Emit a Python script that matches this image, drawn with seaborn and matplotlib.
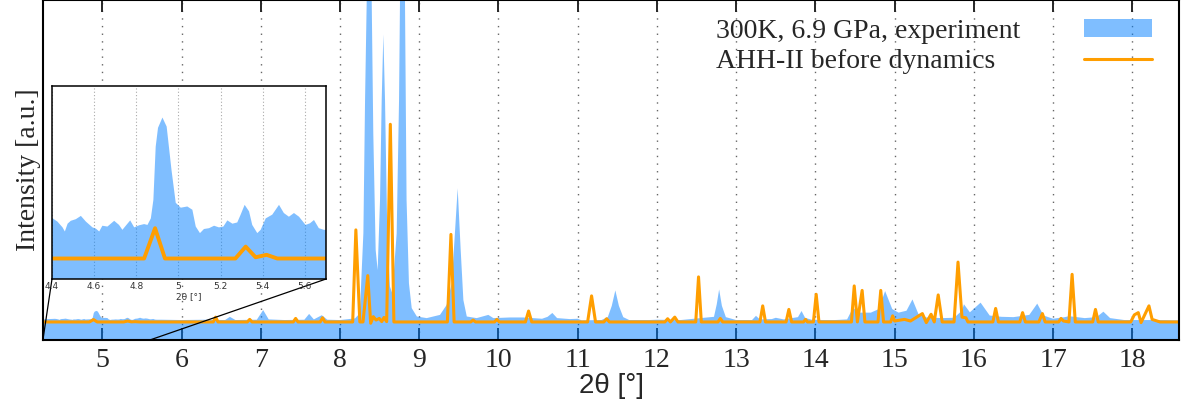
import numpy as np
import pandas as pd
import seaborn as sns
import matplotlib.pyplot as plt
from matplotlib.patches import Patch, ConnectionPatch
from matplotlib.lines import Line2D

sns.set_style("ticks")
plt.rcParams['font.family'] = ['Liberation Serif', 'DejaVu Serif']

# experiment (300K, 6.9 GPa) - 2theta [deg] and intensity [a.u.]
exp_2theta = [4.25, 4.33, 4.403, 4.426, 4.450, 4.461, 4.474, 4.489, 4.513, 4.537, 4.561, 4.592,
              4.608, 4.624, 4.639, 4.663, 4.695, 4.718, 4.734, 4.750, 4.771, 4.790, 4.813, 4.837,
              4.853, 4.869, 4.881, 4.892, 4.903, 4.924, 4.944, 4.967, 4.987, 5.011, 5.042, 5.066,
              5.082, 5.102, 5.121, 5.145, 5.169, 5.192, 5.213, 5.232, 5.256, 5.279, 5.295, 5.314,
              5.335, 5.350, 5.374, 5.390, 5.414, 5.445, 5.477, 5.500, 5.524, 5.548, 5.572, 5.603,
              5.624, 5.643, 5.666, 5.690, 5.75, 6.0, 6.3, 6.55, 6.61, 6.68, 6.95, 7.03, 7.1, 7.3,
              7.55, 7.61, 7.67, 7.77, 7.84, 8.0, 8.15, 8.19, 8.25, 8.295, 8.316, 8.337, 8.366,
              8.40, 8.42, 8.45, 8.475, 8.505, 8.526, 8.547, 8.568, 8.597, 8.63, 8.66, 8.715, 8.745,
              8.757, 8.787, 8.82, 8.84, 8.87, 8.905, 8.97, 9.094, 9.262, 9.346, 9.41, 9.45, 9.485,
              9.523, 9.557, 9.6, 9.725, 9.872, 9.935, 10.146, 10.31, 10.55, 10.62, 10.68, 10.74,
              10.9, 11.0, 11.05, 11.3, 11.38, 11.43, 11.475, 11.52, 11.575, 11.65, 11.9, 12.0,
              12.3, 12.72, 12.755, 12.785, 12.82, 12.87, 13.0, 13.2, 13.25, 13.3, 13.45, 13.5,
              13.6, 13.78, 13.825, 13.87, 13.95, 14.1, 14.25, 14.4, 14.475, 14.55, 14.7, 14.8,
              14.88, 14.97, 15.05, 15.15, 15.225, 15.3, 15.4, 15.6, 15.75, 15.85, 15.875, 15.95,
              16.085, 16.2, 16.35, 16.5, 16.7, 16.8, 16.88, 17.0, 17.15, 17.2, 17.4, 17.55, 17.635,
              17.72, 17.9, 18.1, 18.3, 18.6]
exp_intensity = [0.8, 0.9, 0.98, 0.90, 0.76, 0.66, 0.85, 0.92, 0.96, 1.04, 0.90, 0.76,
                 0.73, 0.66, 0.80, 0.78, 0.92, 0.82, 0.70, 0.80, 0.93, 0.76, 0.81, 0.84,
                 0.82, 0.98, 1.43, 2.73, 3.19, 3.44, 3.22, 2.16, 1.36, 1.24, 1.27, 1.19,
                 0.78, 0.62, 0.72, 0.74, 0.80, 0.76, 0.78, 0.93, 0.85, 0.88, 1.07, 1.31,
                 1.15, 0.82, 0.62, 0.70, 0.98, 1.07, 1.31, 1.11, 1.02, 1.11, 1.02, 0.82,
                 0.86, 0.94, 0.74, 0.70, 0.7, 0.6, 0.7, 0.6, 1.6, 0.6, 0.7, 3.7, 0.8, 0.6,
                 0.7, 2.5, 0.8, 2.1, 0.7, 0.6, 1.0, 1.1, 2.7, 27.6, 68.9, 100.0, 140.0,
                 100.0, 58.6, 22.4, 16.1, 37.9, 68.9, 89.3, 68.9, 27.5, 11.0, 8.9, 27.5, 68.9,
                 100.0, 150.0, 100.0, 37.9, 12.0, 4.3, 1.7, 1.2, 2.2, 5.3, 12.0, 27.5, 41.5,
                 22.4, 6.8, 1.7, 1.2, 2.2, 1.2, 1.4, 1.4, 1.0, 1.6, 2.8, 1.2,
                 0.9, 1.0, 0.5, 0.6, 1.5, 5.0, 9.8, 5.0, 1.5, 0.6, 0.6, 0.7,
                 0.6, 1.6, 5.5, 10.1, 5.0, 1.5, 0.6, 0.6, 1.9, 0.8, 0.9, 1.3,
                 0.8, 1.5, 3.4, 1.3, 0.7, 0.6, 0.6, 0.8, 4.4, 2.9, 2.9, 4.0,
                 9.6, 4.0, 2.9, 3.5, 7.0, 2.5, 1.4, 1.2, 1.3, 3.5, 5.5, 3.0,
                 6.0, 2.0, 1.6, 1.5, 2.2, 5.7, 2.0, 1.0, 1.5, 1.8, 1.2, 1.5, 3.2,
                 1.2, 0.6, 0.6, 0.6, 0.5]

# AHH-II before dynamics (simulated pattern)
sim_2theta = [4.25, 4.837, 4.889, 4.936, 5.27, 5.319, 5.366, 5.418, 5.469, 6.40, 6.43, 6.46,
              6.83, 6.86, 6.89, 7.41, 7.44, 7.47, 7.75, 7.78, 7.81, 8.16, 8.20, 8.25, 8.29,
              8.35, 8.387, 8.42, 8.455, 8.496, 8.526, 8.555, 8.589, 8.635, 8.68, 9.355, 9.40,
              9.44, 9.65, 9.68, 9.71, 9.95, 9.98, 10.01, 10.34, 10.38, 10.42, 11.125, 11.175,
              11.225, 11.33, 11.365, 11.40, 12.10, 12.135, 12.17, 12.225, 12.265, 12.49, 12.525,
              12.56, 12.77, 12.80, 12.83, 13.30, 13.335, 13.37, 13.63, 13.665, 13.70, 13.85,
              13.875, 13.90, 13.975, 14.01, 14.045, 14.455, 14.49, 14.53, 14.59, 14.625, 14.79,
              14.825, 14.86, 14.95, 14.975, 15.0, 15.05, 15.125, 15.20, 15.35, 15.40, 15.46,
              15.50, 15.55, 15.60, 15.75, 15.80, 15.85, 15.90, 15.925, 16.24, 16.275, 16.31,
              16.58, 16.615, 16.65, 16.82, 16.865, 16.90, 17.07, 17.10, 17.13, 17.20, 17.24,
              17.28, 17.50, 17.535, 17.57, 17.98, 18.025, 18.075, 18.11, 18.21, 18.25, 18.35,
              18.6]
sim_intensity = [0, 0, 0.74, 0, 0, 0.29, 0.03, 0.09, 0, 0, 1.5, 0,
                 0, 0.8, 0, 0, 1.1, 0, 0, 1.3, 0, 0, 28.6, 0, 0,
                 14.4, -0.4, 1.65, 0.6, 1.1, 0.1, 1.4, 0.1, 61.4, 0, 0, 27.2,
                 0, 0, 0.6, 0, 0, 0.8, 0, 0, 3.4, 0, 0, 8.1,
                 0, 0, 1.0, 0, 0, 1.0, 0, 1.5, 0, 0, 14.0,
                 0, 0, 1.1, 0, 0, 5.0, 0, 0, 3.9, 0, 0,
                 0.8, 0, 0, 8.6, 0, 0, 11.2, 0, 9.8, 0, 0,
                 9.8, 0, 0, 1.9, 0.3, 0.5, 0.8, 0.3, 2.6, -0.2, 2.4,
                 0, 8.4, 0, 0, 18.6, 1.5, 1.3, 0, 0, 4.2, 0,
                 0, 2.9, 0, 0, 2.6, 0, 0, 1.1, 0.3, 0, 14.8,
                 0, 0, 3.9, 0, 0, 2.2, 2.9, -0.2, 5.0, 0.8, 0,
                 0]

series_labels = ["300K, 6.9 GPa, experiment", "AHH-II before dynamics"]
main_ticks = list(range(5, 19))
inset_ticks = [4.4, 4.6, 4.8, 5.0, 5.2, 5.4, 5.6]
inset_tick_labels = ["4.4", "4.6", "4.8", "5", "5.2", "5.4", "5.6"]

exp_df = pd.DataFrame({"two_theta": exp_2theta, "intensity": exp_intensity})
sim_df = pd.DataFrame({"two_theta": sim_2theta, "intensity": sim_intensity})

blue = "#007fff"
orange = "#ff9e00"
main_ylim = (-5.6, 100)
inset_xlim = (4.4, 5.7)
inset_ylim = (-0.5, 4.21)
zoom_marks = (4.25, 5.6)

fig = plt.figure(figsize=(11.87, 4.07), dpi=100)
ax = fig.add_axes([43.3 / 1187, 67 / 407, 1136 / 1187, 340 / 407])


def draw_patterns(a, lw):
    a.fill_between(exp_df["two_theta"], exp_df["intensity"], -50, color=blue, alpha=0.5,
                   linewidth=0, zorder=1)
    sns.lineplot(data=sim_df, x="two_theta", y="intensity", ax=a, color=orange, lw=lw,
                 estimator=None, sort=False, zorder=2)


draw_patterns(ax, 2.2)
ax.set_xlim(4.255, 18.593)
ax.set_ylim(*main_ylim)
ax.set_axisbelow(True)
ax.set_xticks(main_ticks)
ax.tick_params(axis="x", direction="in", top=True, length=8.5, width=1.4, labelsize=20, pad=6)
ax.tick_params(axis="y", left=False, labelleft=False)
ax.grid(axis="x", linestyle=(0, (1, 4.5)), color="#666666", lw=1)
for s in ax.spines.values():
    s.set_linewidth(1.5)
    s.set_color("black")
ax.set_xlabel("2θ [°]", fontsize=20, family=["Liberation Sans", "DejaVu Sans"], labelpad=0)
ax.set_ylabel("Intensity [a.u.]", fontsize=20, labelpad=2)

handles = [Patch(facecolor=blue, alpha=0.5, edgecolor="none"), Line2D([], [], color=orange, lw=2.2)]
leg = ax.legend(handles, series_labels, loc="upper right", bbox_to_anchor=(0.976, 0.945),
                frameon=False, markerfirst=False, fontsize=20, handlelength=2.45,
                handleheight=0.6, handletextpad=2.3, labelspacing=0.2, borderpad=0,
                borderaxespad=0)

# inset
axin = fig.add_axes([52 / 1187, 128 / 407, 274 / 1187, 193 / 407], zorder=5)
axin.set_facecolor("white")
draw_patterns(axin, 2.8)
axin.set_xlim(*inset_xlim)
axin.set_ylim(*inset_ylim)
axin.set_axisbelow(True)
axin.set_xticks(inset_ticks)
axin.set_xticklabels(inset_tick_labels)
axin.tick_params(axis="x", length=0, labelsize=6.5, pad=2, labelcolor="#333333")
axin.tick_params(axis="y", left=False, labelleft=False)
for lab in axin.get_xticklabels():
    lab.set_family(["DejaVu Sans"])
axin.grid(axis="x", linestyle=(0, (1, 2)), color="#aaaaaa", lw=0.8)
for s in axin.spines.values():
    s.set_linewidth(1.1)
    s.set_color("black")
axin.set_xlabel("2θ [°]", fontsize=6.5, family=["DejaVu Sans"], labelpad=1, color="#333333")
axin.set_ylabel("")

for corner, xm in zip([(0, 0), (1, 0)], zoom_marks):
    con = ConnectionPatch(xyA=corner, coordsA=axin.transAxes, xyB=(xm, main_ylim[0]),
                          coordsB=ax.transData, color="black", lw=0.9)
    fig.add_artist(con)

# left-align legend texts (handles stay on the right)
fig.canvas.draw()
texts = leg.get_texts()
lefts = [t.get_window_extent().x0 for t in texts]
for t, l in zip(texts, lefts):
    t.set_x(min(lefts) - l)

fig.savefig("out.png", dpi=100)
